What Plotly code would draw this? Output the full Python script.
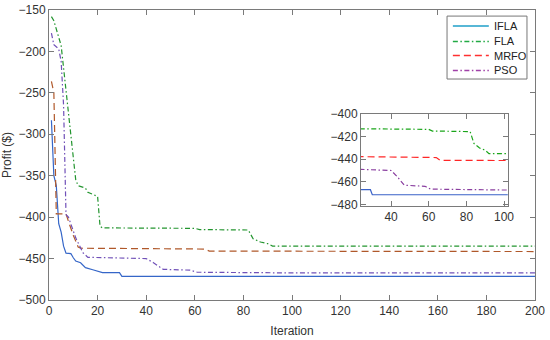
import plotly.graph_objects as go

# ---- data ----
ifla_x = [1, 2, 3, 4, 5, 6, 7, 9, 10, 11, 13, 14, 15, 18, 20, 22, 29, 30, 200]
ifla_y = [-283, -350, -362, -408, -418, -435, -443.5, -444, -449, -453, -455, -457.5, -461, -463.5, -465, -467, -467, -471.5, -471.5]

fla_x = [1, 2, 5, 8, 10, 11, 12, 15, 16, 18, 20, 21, 22, 60, 62, 82, 84, 87, 90, 92, 200]
fla_y = [-158, -163, -193, -275, -327, -355, -362, -365, -370, -373, -375, -411, -413, -413.5, -415, -415.5, -426, -430, -432, -435, -435]

mrfo_x = [1, 2, 3, 7, 8, 10, 12, 13, 64, 66, 200]
mrfo_y = [-236, -250, -396, -396, -405, -422, -436, -437.5, -438.5, -441, -441.5]

pso_x = [1, 2, 4, 5, 6, 7, 8, 11, 14, 16, 40, 43, 47, 58, 61, 100, 200]
pso_y = [-178, -192, -197, -212, -265, -397, -400, -425, -443, -448.5, -450, -455, -463, -464, -466.5, -467.3, -467.3]

names = ["IFLA", "FLA", "MRFO", "PSO"]
main_colors = ["#3566c8", "#23952f", "#b0582a", "#7050b8"]
inset_colors = ["#3a62c8", "#1aa51a", "#ff2626", "#8a3fa0"]
legend_colors = ["#1f9fc9", "#22aa44", "#ff3030", "#a040a8"]
dashes = ["solid", "5px,2.5px,1.5px,2.5px", "7px,4px", "5px,2.5px,1.5px,2.5px"]

xs = [ifla_x, fla_x, mrfo_x, pso_x]
ys = [ifla_y, fla_y, mrfo_y, pso_y]

FONT = "Liberation Sans, Arial, sans-serif"

fig = go.Figure()

for n, x, y, c, d in zip(names, xs, ys, main_colors, dashes):
    fig.add_trace(go.Scatter(x=x, y=y, mode="lines", name=n, showlegend=False,
                             line=dict(color=c, width=1.2, dash=d),
                             xaxis="x", yaxis="y"))

for n, x, y, c, d in zip(names, xs, ys, inset_colors, dashes):
    fig.add_trace(go.Scatter(x=x, y=y, mode="lines", name=n, showlegend=False,
                             line=dict(color=c, width=1.2, dash=d),
                             xaxis="x2", yaxis="y2"))

# ---- legend box (drawn manually to match the compact MATLAB legend) ----
leg_x0, leg_x1, leg_y0, leg_y1 = 0.819, 0.9835, 0.762, 0.979
item_y = [0.9448, 0.8914, 0.8431, 0.7914]
fig.add_shape(type="rect", xref="paper", yref="paper",
              x0=leg_x0, x1=leg_x1, y0=leg_y0, y1=leg_y1,
              line=dict(color="#777777", width=1), fillcolor="white", layer="above")
for n, c, d, yy in zip(names, legend_colors, dashes, item_y):
    fig.add_shape(type="line", xref="paper", yref="paper",
                  x0=0.831, x1=0.905, y0=yy, y1=yy,
                  line=dict(color=c, width=1.4, dash=d), layer="above")
    fig.add_annotation(text=n, xref="paper", yref="paper", x=0.9115, y=yy,
                       xanchor="left", yanchor="middle", showarrow=False,
                       font=dict(family=FONT, size=11, color="#222222"))

axcol = "#7a7a7a"
tickfont = dict(family=FONT, size=12, color="#333333")

common = dict(showline=True, linecolor=axcol, linewidth=1, mirror="ticks",
              ticks="inside", ticklen=5, tickcolor=axcol, showgrid=False,
              zeroline=False, tickfont=tickfont, automargin=False)

fig.update_layout(
    width=550, height=340,
    margin=dict(l=49, r=15, t=10, b=40),
    paper_bgcolor="white", plot_bgcolor="white",
    showlegend=False,
    font=dict(family=FONT, size=12, color="#333333"),
    xaxis=dict(range=[0, 200], tickvals=[0, 20, 40, 60, 80, 100, 120, 140, 160, 180, 200],
               domain=[0, 1], anchor="y",
               title=dict(text="Iteration", standoff=9,
                          font=dict(family=FONT, size=12, color="#333333")),
               **common),
    yaxis=dict(range=[-500, -150], tickvals=[-500, -450, -400, -350, -300, -250, -200, -150],
               domain=[0, 1], anchor="x",
               title=dict(text="Profit ($)", standoff=4,
                          font=dict(family=FONT, size=12, color="#333333")),
               **common),
    xaxis2=dict(range=[24, 102], tickvals=[40, 60, 80, 100], domain=[0.642, 0.944],
                anchor="y2", **common),
    yaxis2=dict(range=[-481.5, -400], tickvals=[-480, -460, -440, -420, -400],
                domain=[0.324, 0.641], anchor="x2", **common),
)

fig.write_html("out.html", config={"displayModeBar": False},
               post_script="document.body.style.margin='0px';")
